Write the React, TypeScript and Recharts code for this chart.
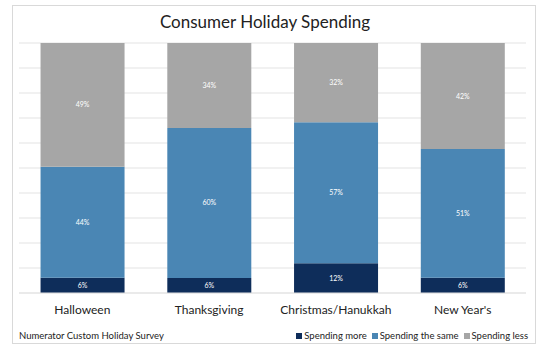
import React from 'react';
import { BarChart, Bar, XAxis, YAxis, CartesianGrid, LabelList } from 'recharts';

const holidays = ['Halloween', 'Thanksgiving', 'Christmas/Hanukkah', "New Year's"];
const spendingMore = [6, 6, 12, 6];
const spendingSame = [44, 60, 57, 51];
const spendingLess = [49, 34, 32, 42];
const gridTicks = [0, 0.1, 0.2, 0.3, 0.4, 0.5, 0.6, 0.7, 0.8, 0.9, 1];

const series = [
  { key: 'more', name: 'Spending more', color: '#0e2d5a' },
  { key: 'same', name: 'Spending the same', color: '#4a86b4' },
  { key: 'less', name: 'Spending less', color: '#a6a6a6' },
];

const data = holidays.map((name, i) => ({
  name,
  more: spendingMore[i],
  same: spendingSame[i],
  less: spendingLess[i],
}));

const FONT = 'Lato, "Open Sans", sans-serif';
const pct = (v: any) => `${v}%`;

const App: React.FC = () => {
  return (
    <div style={{ position: 'absolute', left: 0, top: 0, width: 541, height: 351, background: '#fff', fontFamily: FONT }}>
      <div
        style={{
          position: 'absolute',
          left: 12,
          top: 5,
          width: 522,
          height: 337,
          border: '1px solid #d9d9d9',
        }}
      />
      <div
        style={{
          position: 'absolute',
          left: 0,
          width: 530,
          top: 11,
          textAlign: 'center',
          fontSize: 17,
          color: '#222',
        }}
      >
        Consumer Holiday Spending
      </div>
      <div style={{ position: 'absolute', left: 19, top: 330, fontSize: 9.5, color: '#222' }}>
        Numerator Custom Holiday Survey
      </div>
      <div
        style={{
          position: 'absolute',
          right: 13,
          top: 330,
          fontSize: 9.5,
          color: '#222',
          display: 'flex',
          gap: 5,
          alignItems: 'center',
        }}
      >
        {series.map((s) => (
          <span key={s.key} style={{ display: 'flex', alignItems: 'center' }}>
            <span style={{ display: 'inline-block', width: 6, height: 6, background: s.color, marginRight: 2 }} />
            {s.name}
          </span>
        ))}
      </div>
      <div style={{ position: 'absolute', left: 0, top: 0 }}>
        <BarChart
          width={541}
          height={351}
          data={data}
          stackOffset="expand"
          barCategoryGap="17%"
          margin={{ top: 43, left: 19, right: 15, bottom: 28 }}
        >
          <CartesianGrid vertical={false} stroke="#e3e3e3" />
          <YAxis hide domain={[0, 1]} ticks={gridTicks} />
          <XAxis
            dataKey="name"
            height={30}
            tickLine={false}
            axisLine={{ stroke: '#e3e3e3' }}
            tick={{ fill: '#222', fontSize: 12, fontFamily: FONT }}
            tickMargin={6}
          />
          {series.map((s) => (
            <Bar key={s.key} dataKey={s.key} name={s.name} stackId="a" fill={s.color} isAnimationActive={false}>
              <LabelList dataKey={s.key} position="center" fill="#fff" fontSize={7} formatter={pct} />
            </Bar>
          ))}
        </BarChart>
      </div>
    </div>
  );
};

export default App;
